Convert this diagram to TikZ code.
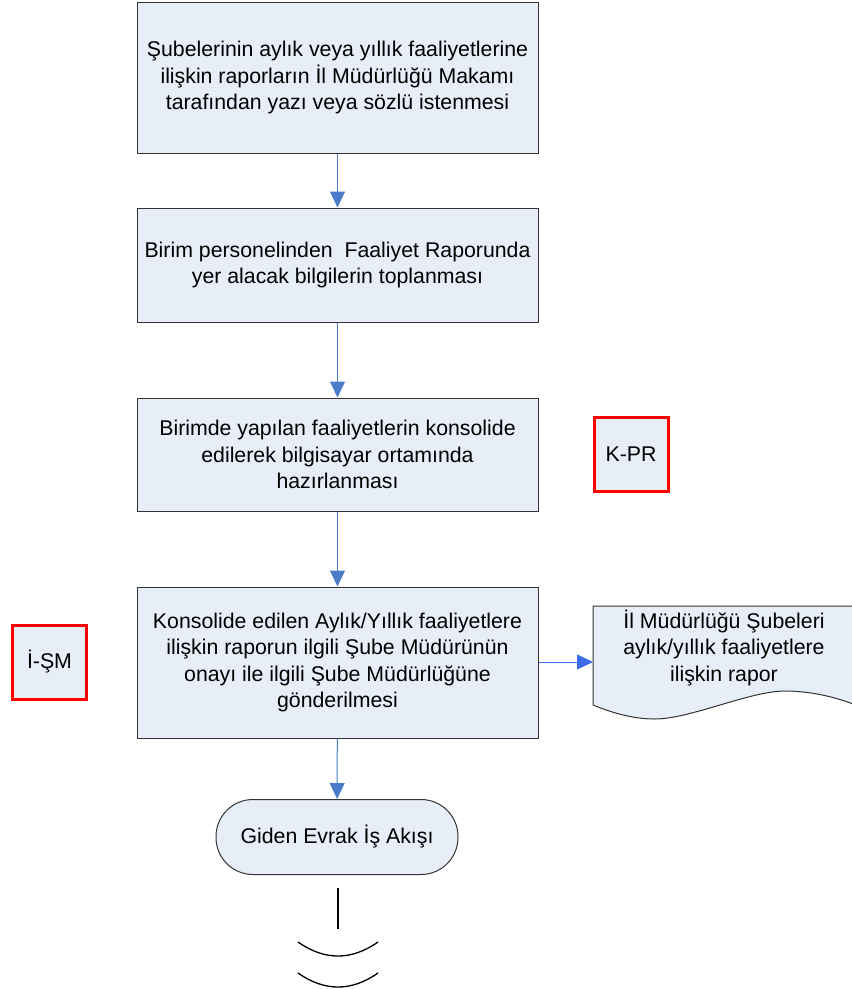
\documentclass[tikz,border=0pt]{standalone}
\usepackage{fontspec}
\setmainfont{Liberation Sans}
\usetikzlibrary{arrows.meta}
\definecolor{boxfill}{HTML}{E8EEF7}
\definecolor{boxline}{HTML}{333333}
\definecolor{arrowblue}{HTML}{4A7CC9}
\definecolor{arrowblue2}{HTML}{3A6CEB}
\tikzset{
  txt/.style={font=\fontsize{21.3}{26.5}\selectfont},
  procbox/.style={draw=boxline, line width=1pt, fill=boxfill, minimum width=401pt, align=center, txt, inner sep=0pt},
  refbox/.style={draw=red, line width=3pt, fill=boxfill, minimum width=74pt, minimum height=74pt, txt, inner sep=0pt},
  flow/.style={draw=arrowblue, line width=1pt, -{Triangle[length=16pt,width=15pt]}},
  termbox/.style={draw=boxline, line width=1pt, fill=boxfill, rounded corners=37pt, minimum width=242pt, minimum height=75pt, txt, inner sep=0pt},
  plain/.style={draw=black, line width=1.3pt}
}
\begin{document}
\begin{tikzpicture}[x=1pt,y=-1pt]
\useasboundingbox (0,0) rectangle (852,989);
\node[procbox, minimum height=151pt] (b1) at (337.5,77.5) {Şubelerinin aylık veya yıllık faaliyetlerine\\ilişkin raporların İl Müdürlüğü Makamı\\tarafından yazı veya sözlü istenmesi};
\node[procbox, minimum height=114pt] (b2) at (337.5,265) {Birim personelinden\ \ Faaliyet Raporunda\\yer alacak bilgilerin toplanması};
\node[procbox, minimum height=113pt] (b3) at (337.5,454.5) {Birimde yapılan faaliyetlerin konsolide\\edilerek bilgisayar ortamında\\hazırlanması};
\node[procbox, minimum height=151pt] (b4) at (337.5,662.5) {Konsolide edilen Aylık/Yıllık faaliyetlere\\ilişkin raporun ilgili Şube Müdürünün\\onayı ile ilgili Şube Müdürlüğüne\\gönderilmesi};
\node[termbox] (t) at (337,837) {Giden Evrak İş Akışı};
\node[refbox] (kpr) at (631,454) {K-PR};
\node[refbox] (ism) at (49.5,662) {İ-ŞM};
% document shape
\draw[draw=boxline, line width=1pt, fill=boxfill] (593,606) -- (853,606) -- (853,704)
  .. controls (835,697) and (810,691) .. (785,691)
  .. controls (750,691) and (690,719) .. (655,719)
  .. controls (635,719) and (615,714) .. (593,705) -- cycle;
\node[align=center, txt, inner sep=0pt] (doc) at (724,648) {İl Müdürlüğü Şubeleri\\aylık/yıllık faaliyetlere\\ilişkin rapor};
\coordinate (docL) at (593,662);
% connectors
\draw[flow] (b1) -- (b2);
\draw[flow] (b2) -- (b3);
\draw[flow] (b3) -- (b4);
\draw[flow] (b4) -- (t);
\draw[flow, draw=arrowblue2] (b4.east |- docL) -- (docL);
% off-page marks
\coordinate (v1) at (338,888);
\coordinate (v2) at (338,929);
\draw[plain] (v1) -- (v2);
\coordinate (a1) at (298,942);
\coordinate (a2) at (378,942);
\draw[plain] (a1) .. controls (324.7,960.7) and (351.3,960.7) .. (a2);
\coordinate (c1) at (298,973);
\coordinate (c2) at (378,973);
\draw[plain] (c1) .. controls (324.7,991.7) and (351.3,991.7) .. (c2);
\end{tikzpicture}
\end{document}
